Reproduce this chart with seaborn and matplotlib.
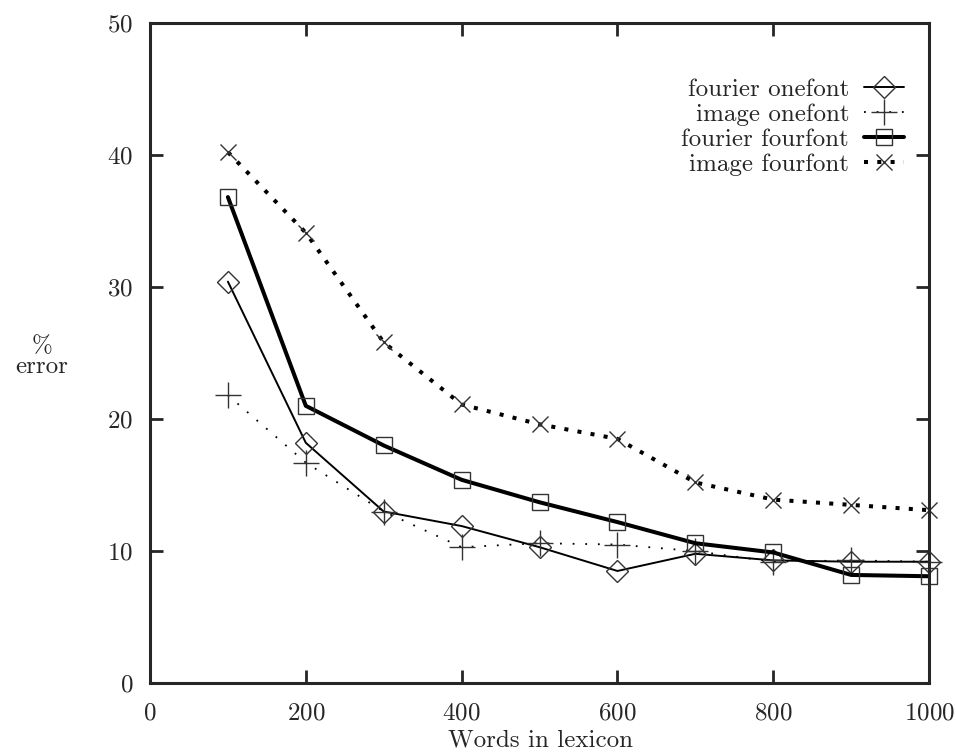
import numpy as np
import pandas as pd
import matplotlib
matplotlib.use("Agg")
import matplotlib.pyplot as plt
import seaborn as sns

# Lexicon sizes and recognition error rates (%)
words = [100, 200, 300, 400, 500, 600, 700, 800, 900, 1000]
fourier_onefont = [30.4, 18.2, 13.0, 11.9, 10.3, 8.5, 9.8, 9.3, 9.2, 9.2]
image_onefont = [21.8, 16.7, 13.0, 10.3, 10.6, 10.5, 10.0, 9.2, 9.3, 9.2]
fourier_fourfont = [36.8, 21.0, 18.0, 15.4, 13.7, 12.2, 10.6, 9.9, 8.2, 8.1]
image_fourfont = [40.2, 34.1, 25.8, 21.1, 19.6, 18.5, 15.2, 13.9, 13.5, 13.1]

series_names = ["fourier onefont", "image onefont", "fourier fourfont", "image fourfont"]
x_ticks = [0, 200, 400, 600, 800, 1000]
y_ticks = [0, 10, 20, 30, 40, 50]

df = pd.DataFrame({
    "words": words * 4,
    "error": fourier_onefont + image_onefont + fourier_fourfont + image_fourfont,
    "series": np.repeat(series_names, len(words)),
})

sns.set_style("ticks")
plt.rcParams["font.family"] = ["cmr10", "DejaVu Serif"]
plt.rcParams["axes.formatter.use_mathtext"] = True
plt.rcParams["mathtext.fontset"] = "cm"

fig = plt.figure(figsize=(9.56, 7.53), dpi=100)
ax = fig.add_axes([0.1569, 0.0926, 0.8149, 0.8773])

styles = {
    "fourier onefont": dict(marker="D", markersize=11, linewidth=1.4, linestyle="-"),
    "image onefont": dict(marker="+", markersize=19, linewidth=1.3, linestyle=(0, (1, 6))),
    "fourier fourfont": dict(marker="s", markersize=11, linewidth=2.9, linestyle="-"),
    "image fourfont": dict(marker="x", markersize=12, linewidth=2.9, linestyle=(0, (1, 2.3))),
}

for name in series_names:
    st = styles[name]
    sns.lineplot(
        data=df[df["series"] == name], x="words", y="error", ax=ax,
        color="black", label=name, markerfacecolor="none",
        markeredgecolor="#333333", markeredgewidth=1.0,
        dash_capstyle="butt", clip_on=False, zorder=1, **st,
    )

ax.set_xlim(0, 1000)
ax.set_ylim(0, 50)
ax.set_xticks(x_ticks)
ax.set_yticks(y_ticks)
ax.tick_params(direction="in", length=9.5, width=2.0, labelsize=18,
               top=True, right=True, pad=12)
ax.tick_params(axis="x", pad=14)
for sp in ax.spines.values():
    sp.set_linewidth(2.2)
    sp.set_visible(True)
    sp.set_zorder(3)

ax.set_xlabel("Words in lexicon", fontsize=18, va="center")
ax.xaxis.set_label_coords(0.5007, -0.0858)
ax.set_ylabel("%\nerror", fontsize=18, rotation=0, linespacing=0.9,
              ha="center", va="center")
ax.yaxis.set_label_coords(-0.139, 0.495)

leg = ax.legend(loc="upper right", bbox_to_anchor=(0.968, 0.916),
                frameon=False, markerfirst=False, fontsize=18,
                handlelength=1.6, handletextpad=0.6, labelspacing=0.1,
                borderpad=0, borderaxespad=0)
for t in leg.get_texts():
    t.set_ha("right")
leg._legend_box.align = "right"

fig.savefig("out.png", dpi=100)
